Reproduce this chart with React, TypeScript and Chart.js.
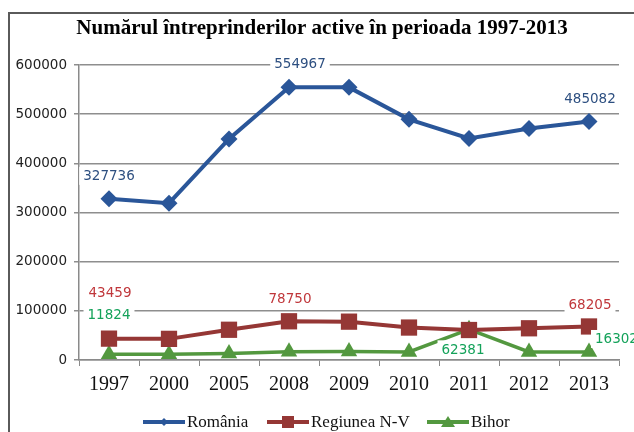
import React, { useEffect, useRef } from 'react';
import { Chart, registerables } from 'chart.js';

Chart.register(...registerables);

const titleText = 'Numărul întreprinderilor active în perioada 1997-2013';
const years = ['1997', '2000', '2005', '2008', '2009', '2010', '2011', '2012', '2013'];
const romania = [327736, 319000, 449500, 554967, 554500, 489500, 450500, 471000, 485082];
const regiunea = [43459, 43000, 61500, 78750, 78000, 66000, 61000, 64500, 68205];
const bihor = [11824, 11500, 13000, 16800, 17300, 16500, 62381, 16300, 16302];
const seriesNames = ['România', 'Regiunea N-V', 'Bihor'];
const labeledRomania = [0, 3, 8];
const labeledRegiunea = [0, 3, 8];
const labeledBihor = [0, 6, 8];

const COLORS = ['#2A5699', '#953735', '#53983F'];
const LABEL_COLORS = ['#2D4F80', '#C0373B', '#14A25A'];
const SHAPES = ['rectRot', 'rect', 'triangle'];

// label placement (style): [dx, dy, align]
const labelPlacement: Record<number, Record<number, [number, number, CanvasTextAlign]>> = {
  0: { 0: [0, -23, 'center'], 3: [11, -24, 'center'], 8: [1, -23, 'center'] },
  1: { 0: [1, -46, 'center'], 3: [1, -23, 'center'], 8: [1, -22, 'center'] },
  2: { 0: [0, -40, 'center'], 6: [-6, 20, 'center'], 8: [6, -13, 'left'] },
};

const labeledIdx = [labeledRomania, labeledRegiunea, labeledBihor];

const decorPlugin = {
  id: 'decor',
  beforeDraw(chart: any) {
    const ctx = chart.ctx;
    ctx.save();
    ctx.fillStyle = '#ffffff';
    ctx.fillRect(0, 0, chart.width, chart.height);
    ctx.strokeStyle = '#5a5a5a';
    ctx.lineWidth = 2;
    ctx.beginPath();
    ctx.moveTo(9, chart.height);
    ctx.lineTo(9, 13);
    ctx.lineTo(chart.width, 13);
    ctx.stroke();
    ctx.fillStyle = '#000';
    ctx.font = 'bold 21px "Liberation Serif"';
    ctx.textAlign = 'center';
    ctx.textBaseline = 'middle';
    ctx.fillText(titleText, 322, 29);
    ctx.restore();
  },
  afterDatasetsDraw(chart: any) {
    const ctx = chart.ctx;
    ctx.save();
    ctx.font = '13.5px "DejaVu Sans"';
    ctx.textBaseline = 'middle';
    chart.data.datasets.forEach((ds: any, di: number) => {
      const meta = chart.getDatasetMeta(di);
      labeledIdx[di].forEach((i: number) => {
        const pt = meta.data[i];
        const [dx, dy, align] = labelPlacement[di][i];
        const text = String(ds.data[i]);
        const w = ctx.measureText(text).width;
        const x = pt.x + dx;
        const y = pt.y + dy;
        const left = align === 'left' ? x : x - w / 2;
        ctx.fillStyle = '#ffffff';
        ctx.fillRect(left - 4, y - 9, w + 8, 18);
        ctx.fillStyle = LABEL_COLORS[di];
        ctx.textAlign = align;
        ctx.fillText(text, x, y + 1);
      });
    });
    // legend
    const starts = [143, 267, 427];
    const ly = 422;
    ctx.font = '17px "Liberation Serif"';
    ctx.textAlign = 'left';
    seriesNames.forEach((name, i) => {
      const x0 = starts[i];
      ctx.strokeStyle = COLORS[i];
      ctx.lineWidth = 4;
      ctx.beginPath();
      ctx.moveTo(x0, ly);
      ctx.lineTo(x0 + 42, ly);
      ctx.stroke();
      ctx.fillStyle = COLORS[i];
      const cx = x0 + 21;
      ctx.beginPath();
      if (i === 0) {
        ctx.moveTo(cx, ly - 4);
        ctx.lineTo(cx + 4, ly);
        ctx.lineTo(cx, ly + 4);
        ctx.lineTo(cx - 4, ly);
      } else if (i === 1) {
        ctx.rect(cx - 6, ly - 6, 12, 12);
      } else {
        ctx.moveTo(cx, ly - 6);
        ctx.lineTo(cx + 7, ly + 5);
        ctx.lineTo(cx - 7, ly + 5);
      }
      ctx.closePath();
      ctx.fill();
      ctx.fillStyle = '#111';
      ctx.textBaseline = 'middle';
      ctx.fillText(name, x0 + 44, ly + 1);
    });
    ctx.restore();
  },
};

export default function App() {
  const ref = useRef<HTMLCanvasElement | null>(null);
  useEffect(() => {
    if (!ref.current) return;
    const seriesData = [romania, regiunea, bihor];
    const chart = new Chart(ref.current, {
      type: 'line',
      data: {
        labels: years,
        datasets: seriesData.map((d, i) => ({
          label: seriesNames[i],
          data: d,
          borderColor: COLORS[i],
          backgroundColor: COLORS[i],
          borderWidth: i === 2 ? 3.5 : 4,
          pointStyle: SHAPES[i] as any,
          pointRadius: i === 0 ? 8.5 : i === 1 ? 11.5 : 9.5,
          pointBorderWidth: 0,
          pointBackgroundColor: COLORS[i],
          tension: 0,
          clip: false as any,
        })),
      },
      options: {
        animation: false,
        responsive: false,
        maintainAspectRatio: false,
        layout: { padding: { top: 65, left: 0, right: 15, bottom: 0 } },
        plugins: {
          legend: { display: false },
          title: { display: false },
          tooltip: { enabled: false },
        },
        scales: {
          x: {
            offset: true,
            grid: {
              offset: true,
              drawOnChartArea: false,
              drawTicks: true,
              tickLength: 6,
              color: '#8a8a8a',
            },
            border: { display: true, color: '#8a8a8a', width: 1.5 },
            ticks: {
              font: { family: '"Liberation Serif"', size: 20 },
              color: '#111',
              padding: 7,
              maxRotation: 0,
            },
            afterFit: (s: any) => { s.height = 72; },
          },
          y: {
            min: 0,
            max: 600000,
            ticks: {
              stepSize: 100000,
              font: { family: '"DejaVu Sans"', size: 13.5 },
              color: '#222',
              padding: 7,
              callback: (v: any) => String(v),
            },
            grid: { color: '#8e8e8e', lineWidth: 1.5, tickLength: 5 },
            border: { display: true, color: '#8a8a8a', width: 1.5 },
            afterFit: (s: any) => { s.width = 79; },
          },
        },
      },
      plugins: [decorPlugin],
    });
    return () => chart.destroy();
  }, []);
  return (
    <div style={{ position: 'fixed', left: 0, top: 0, width: 634, height: 432 }}>
      <canvas ref={ref} width={634} height={432} style={{ width: 634, height: 432, display: 'block' }} />
    </div>
  );
}
